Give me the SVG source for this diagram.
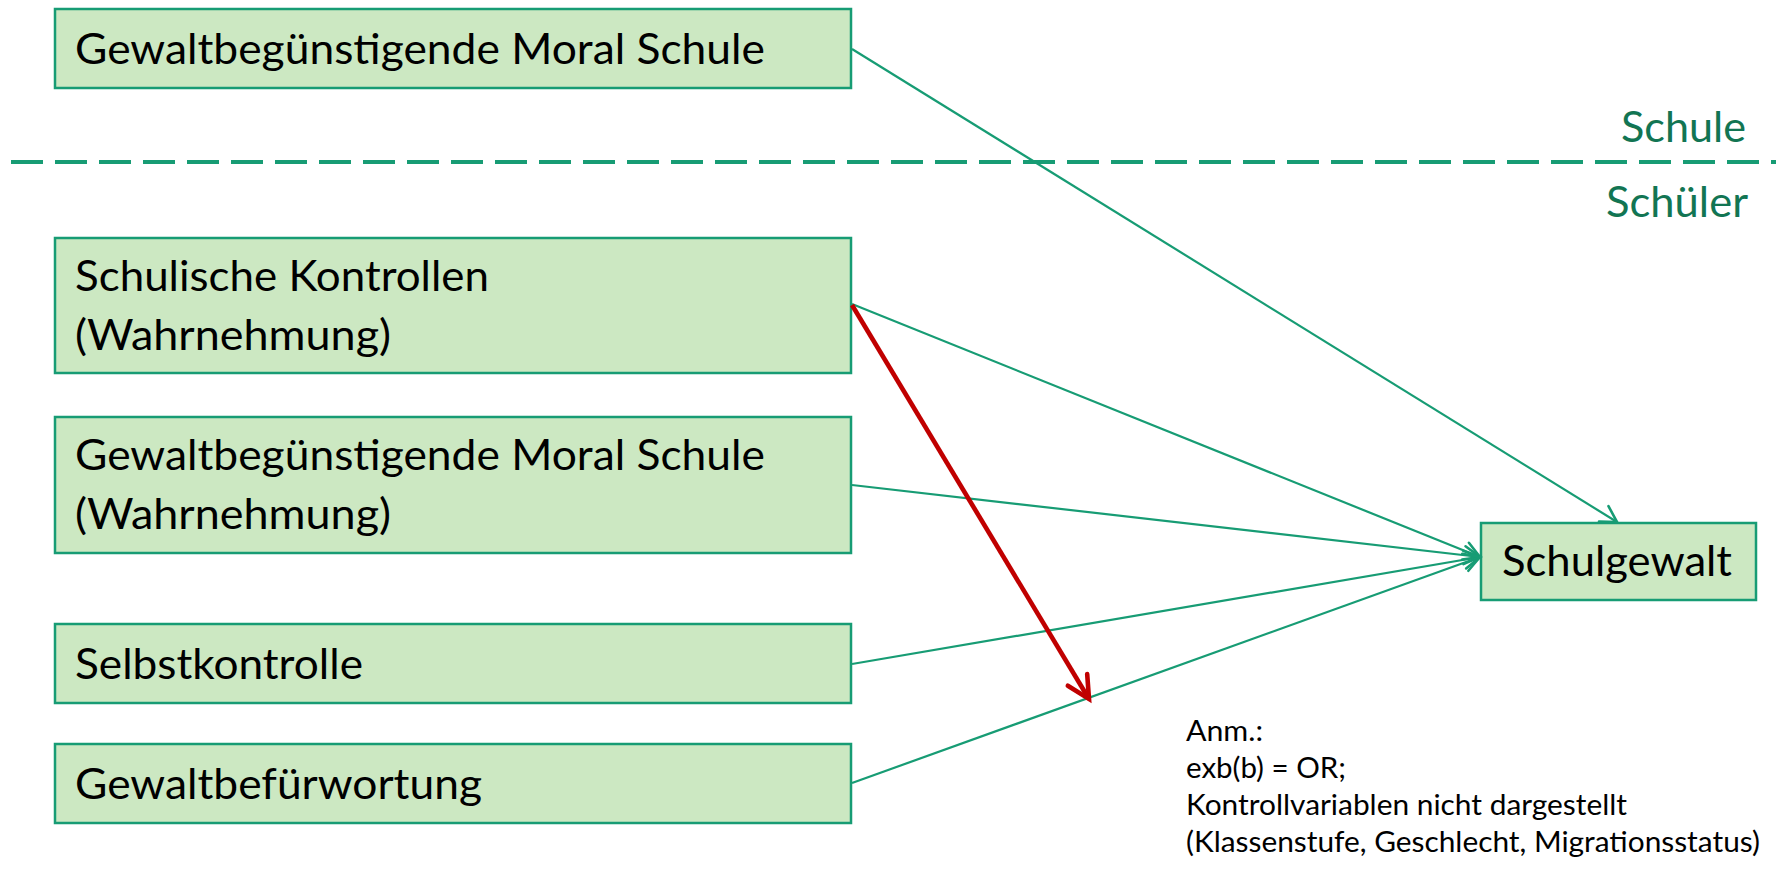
<svg xmlns="http://www.w3.org/2000/svg" width="1776" height="879" viewBox="0 0 1776 879">
  <defs>
    <style>
      .box { fill: #cce8c2; stroke: #179c74; stroke-width: 2.5; }
      .lbl { font-family: Lato, "Liberation Sans", sans-serif; font-size: 43px; fill: #000; }
      .zone { font-family: Lato, "Liberation Sans", sans-serif; font-size: 43px; fill: #127553; }
      .note { font-family: Lato, "Liberation Sans", sans-serif; font-size: 29.5px; fill: #000; }
      .edge { fill: none; stroke: #179c74; stroke-width: 2.2; }
      .edge-red { fill: none; stroke: #c00000; stroke-width: 4.6; }
      .divider { fill: none; stroke: #179c74; stroke-width: 4; stroke-dasharray: 32 12; }
    </style>
    <marker id="open-green" markerUnits="userSpaceOnUse" viewBox="-20 -12 24 24" refX="0" refY="0" markerWidth="24" markerHeight="24" orient="auto" overflow="visible">
      <path d="M-15.6,-9 L0,0 L-15.6,9" fill="none" stroke="#179c74" stroke-width="2.6" stroke-linecap="round" stroke-linejoin="miter"/>
    </marker>
    <marker id="open-red" markerUnits="userSpaceOnUse" viewBox="-26 -14 30 28" refX="0" refY="0" markerWidth="30" markerHeight="28" orient="auto" overflow="visible">
      <path d="M-22.3,-11.3 L0,0 L-22.3,11.3" fill="none" stroke="#c00000" stroke-width="4.6" stroke-linecap="round" stroke-linejoin="miter"/>
    </marker>
  </defs>

  <rect width="1776" height="879" fill="#ffffff"/>

  <!-- level divider: school level above, pupil level below -->
  <g id="levels">
    <line class="divider" x1="11" y1="162" x2="1776" y2="162"/>
    <text class="zone" x="1621" y="142" textLength="125" lengthAdjust="spacingAndGlyphs">Schule</text>
    <text class="zone" x="1606" y="217" textLength="142" lengthAdjust="spacingAndGlyphs">Schüler</text>
  </g>

  <g id="moral-schule">
    <rect class="box" x="55" y="9" width="796" height="79"/>
    <text class="lbl" x="75" y="64" textLength="690" lengthAdjust="spacingAndGlyphs">Gewaltbegünstigende Moral Schule</text>
  </g>

  <g id="kontrollen">
    <rect class="box" x="55" y="238" width="796" height="135"/>
    <text class="lbl" x="75" y="291" textLength="414" lengthAdjust="spacingAndGlyphs">Schulische Kontrollen</text>
    <text class="lbl" x="75" y="350" textLength="316" lengthAdjust="spacingAndGlyphs">(Wahrnehmung)</text>
  </g>

  <g id="moral-wahrnehmung">
    <rect class="box" x="55" y="417" width="796" height="136"/>
    <text class="lbl" x="75" y="470" textLength="690" lengthAdjust="spacingAndGlyphs">Gewaltbegünstigende Moral Schule</text>
    <text class="lbl" x="75" y="529" textLength="316" lengthAdjust="spacingAndGlyphs">(Wahrnehmung)</text>
  </g>

  <g id="selbstkontrolle">
    <rect class="box" x="55" y="624" width="796" height="79"/>
    <text class="lbl" x="75" y="679" textLength="288" lengthAdjust="spacingAndGlyphs">Selbstkontrolle</text>
  </g>

  <g id="befuerwortung">
    <rect class="box" x="55" y="744" width="796" height="79"/>
    <text class="lbl" x="75" y="799" textLength="407" lengthAdjust="spacingAndGlyphs">Gewaltbefürwortung</text>
  </g>

  <g id="schulgewalt">
    <rect class="box" x="1481" y="523" width="275" height="77"/>
    <text class="lbl" x="1502" y="576" textLength="230" lengthAdjust="spacingAndGlyphs">Schulgewalt</text>
  </g>

  <g id="connectors">
    <line class="edge" x1="852" y1="49" x2="1617" y2="522" marker-end="url(#open-green)"/>
    <line class="edge" x1="852" y1="304" x2="1480" y2="557" marker-end="url(#open-green)"/>
    <line class="edge" x1="852" y1="485" x2="1480" y2="557" marker-end="url(#open-green)"/>
    <line class="edge" x1="852" y1="664" x2="1480" y2="557" marker-end="url(#open-green)"/>
    <line class="edge" x1="852" y1="783" x2="1480" y2="557" marker-end="url(#open-green)"/>
    <line class="edge-red" x1="852" y1="305" x2="1089" y2="699" marker-end="url(#open-red)"/>
  </g>

  <g id="anmerkung">
    <text class="note" x="1186" y="741" textLength="77" lengthAdjust="spacingAndGlyphs">Anm.:</text>
    <text class="note" x="1186" y="778" textLength="160" lengthAdjust="spacingAndGlyphs">exb(b) = OR;</text>
    <text class="note" x="1186" y="815" textLength="441" lengthAdjust="spacingAndGlyphs">Kontrollvariablen nicht dargestellt</text>
    <text class="note" x="1186" y="852" textLength="574" lengthAdjust="spacingAndGlyphs">(Klassenstufe, Geschlecht, Migrationsstatus)</text>
  </g>
</svg>
